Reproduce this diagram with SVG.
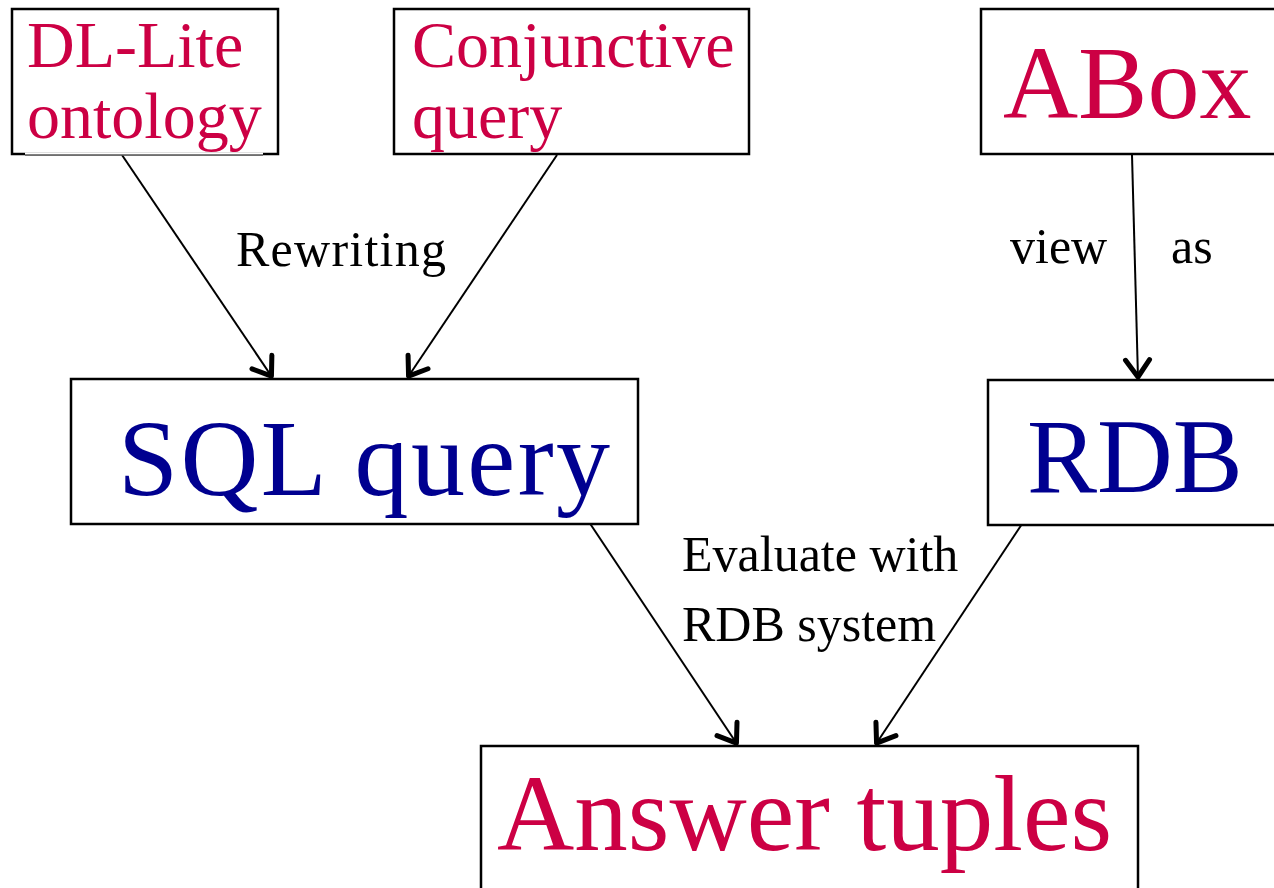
<svg xmlns="http://www.w3.org/2000/svg" width="1274" height="888" viewBox="0 0 1274 888">
<defs>
<marker id="arr" markerUnits="userSpaceOnUse" markerWidth="40" markerHeight="40" viewBox="-30 -20 40 40" refX="0" refY="0" orient="auto">
<path d="M-18,-12 L-1,0 L-18,12" fill="none" stroke="#000" stroke-width="5" stroke-linecap="round" stroke-linejoin="round"/>
</marker>
<style>
.box{fill:#fff;stroke:#000;stroke-width:2.5}
.red{fill:#CC0044;font-family:"Liberation Serif","Times New Roman",serif}
.blue{fill:#000090;font-family:"Liberation Serif","Times New Roman",serif}
.lbl{fill:#000;font-family:"Liberation Serif","Times New Roman",serif;font-size:50px}
.edge{stroke:#000;stroke-width:2;fill:none;marker-end:url(#arr)}
</style>
</defs>
<rect width="1274" height="888" fill="#fff"/>
<g id="connectors">
<line class="edge" x1="122" y1="155" x2="272" y2="377"/>
<line class="edge" x1="557" y1="155" x2="408" y2="377"/>
<line class="edge" x1="1132" y1="155" x2="1138" y2="378"/>
<line class="edge" x1="589" y1="522" x2="737" y2="744"/>
<line class="edge" x1="1024" y1="521" x2="876" y2="744"/>
</g>
<g id="labels">
<text class="lbl" x="236" y="266" textLength="210" lengthAdjust="spacing">Rewriting</text>
<text class="lbl" x="1010" y="263">view</text>
<text class="lbl" x="1171" y="263">as</text>
<text class="lbl" x="682" y="571">Evaluate with</text>
<text class="lbl" x="682" y="641">RDB system</text>
</g>
<g id="node-dllite">
<rect class="box" x="12" y="9" width="266" height="145"/>
<line x1="25" y1="154" x2="263" y2="154" stroke="#fff" stroke-width="3"/>
<line x1="25" y1="155" x2="263" y2="155" stroke="#000" stroke-width="1"/>
<text class="red" x="27" y="67" font-size="66">DL-Lite</text>
<text class="red" x="27" y="138" font-size="66">ontology</text>
</g>
<g id="node-cq">
<rect class="box" x="394" y="9" width="355" height="145"/>
<text class="red" x="412" y="67" font-size="66">Conjunctive</text>
<text class="red" x="412" y="138" font-size="66">query</text>
</g>
<g id="node-abox">
<rect class="box" x="981" y="9" width="310" height="145"/>
<text class="red" x="1003" y="118" font-size="104">ABox</text>
</g>
<g id="node-sql">
<rect class="box" x="71" y="379" width="567" height="145"/>
<text class="blue" x="118" y="495" font-size="108" textLength="492" lengthAdjust="spacing">SQL query</text>
</g>
<g id="node-rdb">
<rect class="box" x="988" y="380" width="310" height="145"/>
<text class="blue" x="1027" y="492" font-size="105">RDB</text>
</g>
<g id="node-answer">
<rect class="box" x="481" y="746" width="657" height="160"/>
<text class="red" x="497" y="850" font-size="107">Answer tuples</text>
</g>
</svg>
